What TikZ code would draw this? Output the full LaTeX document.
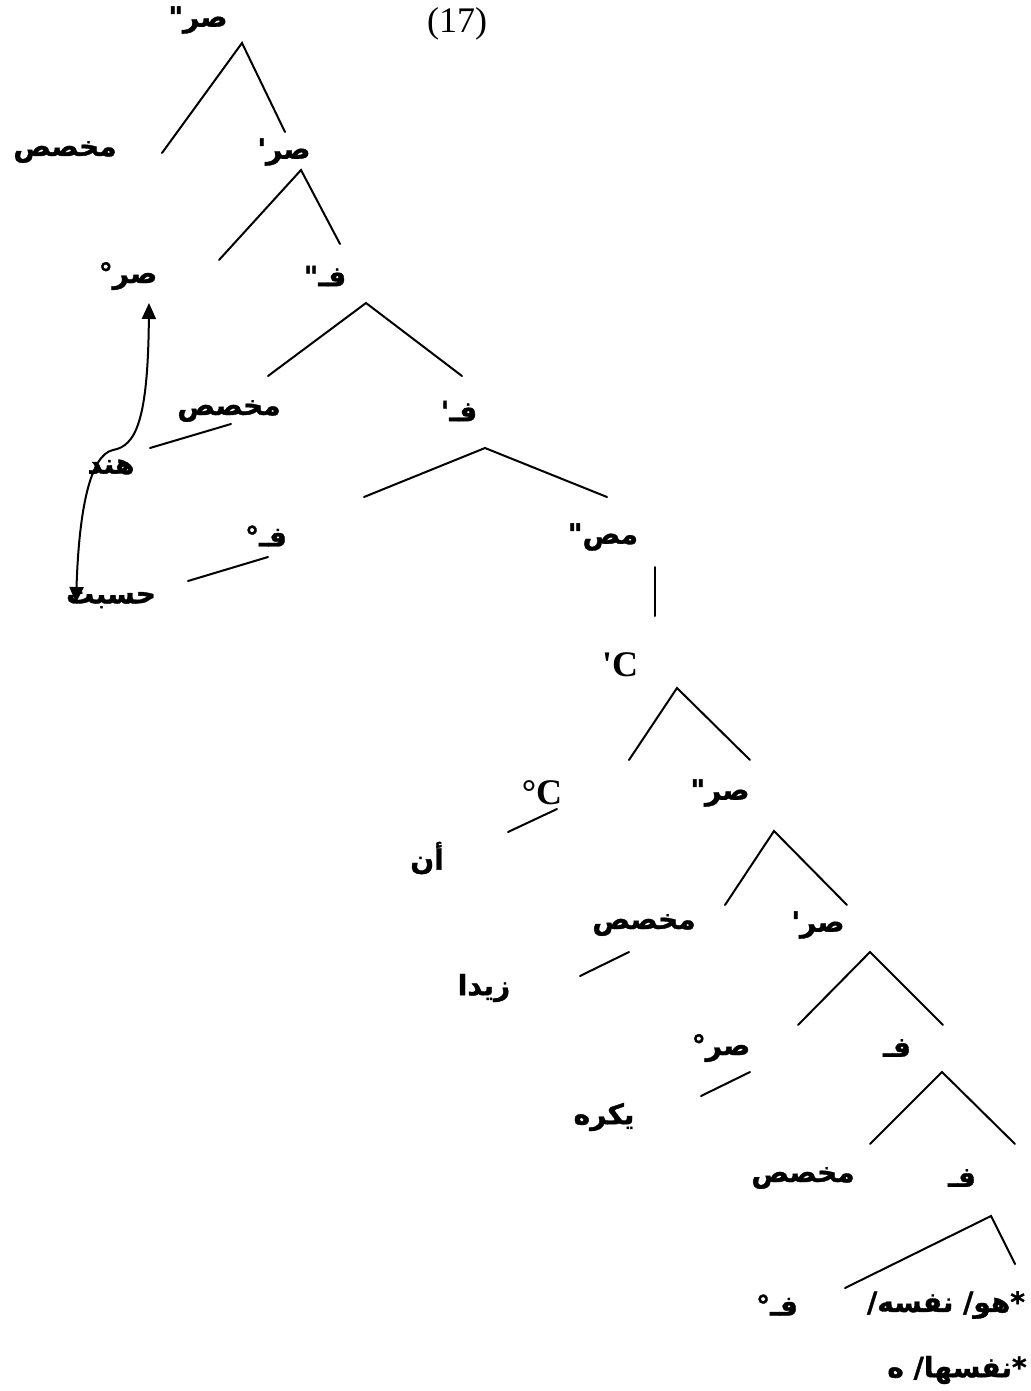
\documentclass[tikz,border=0pt]{standalone}
\usepackage{fontspec}
\usetikzlibrary{arrows.meta}
\TeXXeTstate=1
\newfontfamily\arb[Script=Arabic,FakeBold=1.2]{DejaVu Sans Bold}
\newfontfamily\tms{Liberation Serif}
\newcommand{\artxt}[1]{\beginR #1\endR}
\tikzset{
  ar/.style={font=\arb\fontsize{28}{32}\selectfont, inner sep=0pt, anchor=center},
  lt/.style={font=\tms\bfseries\fontsize{36}{40}\selectfont, inner sep=0pt, anchor=center},
  br/.style={line width=2pt, line cap=round},
  mv/.style={line width=2pt, {Triangle[length=16pt,width=14pt]}-{Triangle[length=16pt,width=14pt]}}
}
\begin{document}
\begin{tikzpicture}[x=1pt,y=-1pt]
\useasboundingbox (0,0) rectangle (1030,1391);
% labels
\node[ar] (n0) at (198,20) {\artxt{صر"}};
\node[font=\tms\fontsize{36}{40}\selectfont, inner sep=0pt] (num) at (457,24) {(17)};
\node[ar] (n1) at (65,152) {\artxt{مخصص}};
\node[ar] (n2) at (284,152) {\artxt{صر'}};
\node[ar] (n3) at (128,276) {\artxt{صر°}};
\node[ar] (n4) at (325,276) {\artxt{فـ"}};
\node[ar] (n5) at (229,411) {\artxt{مخصص}};
\node[ar] (n6) at (459,411) {\artxt{فـ'}};
\node[ar] (hind) at (111,467) {\artxt{هند}};
\node[ar] (n7) at (266,536) {\artxt{فـ°}};
\node[ar] (n8) at (603,537) {\artxt{مص"}};
\node[ar] (hasabt) at (111,600) {\artxt{حسبت}};
\node[lt] (n9) at (620,665) {'C};
\node[lt] (n10) at (542,793) {°C};
\node[ar] (n11) at (720,793) {\artxt{صر"}};
\node[ar] (an) at (427,858) {\artxt{أن}};
\node[ar] (n12) at (644,925) {\artxt{مخصص}};
\node[ar] (n13) at (818,925) {\artxt{صر'}};
\node[ar] (zayd) at (484,988) {\artxt{زيدا}};
\node[ar] (n14) at (721,1048) {\artxt{صر°}};
\node[ar] (n15) at (897,1048) {\artxt{فـ}};
\node[ar] (yakrah) at (604,1117) {\artxt{يكره}};
\node[ar] (n16) at (803,1178) {\artxt{مخصص}};
\node[ar] (n17) at (962,1178) {\artxt{فـ}};
\node[ar] (n18) at (777,1305) {\artxt{فـ°}};
\node[ar] (n19) at (946,1305) {\artxt{*هو/ نفسه/}};
\node[ar] (n20) at (957,1370) {\artxt{*نفسها/ ه}};
% branch end points
\coordinate (a0) at (242,43);   \coordinate (l0) at (162,153);  \coordinate (r0) at (285,132);
\coordinate (a1) at (301,170);  \coordinate (l1) at (219,260);  \coordinate (r1) at (340,244);
\coordinate (a2) at (366,303);  \coordinate (l2) at (268,376);  \coordinate (r2) at (462,376);
\coordinate (s3) at (231,424);  \coordinate (e3) at (150,448);
\coordinate (a4) at (485,448);  \coordinate (l4) at (364,497);  \coordinate (r4) at (607,497);
\coordinate (s5) at (268,557);  \coordinate (e5) at (188,581);
\coordinate (s6) at (655,567);  \coordinate (e6) at (655,616);
\coordinate (a7) at (677,688);  \coordinate (l7) at (629,760);  \coordinate (r7) at (750,760);
\coordinate (s8) at (557,809);  \coordinate (e8) at (508,832);
\coordinate (a9) at (774,831);  \coordinate (l9) at (725,905);  \coordinate (r9) at (847,905);
\coordinate (s10) at (629,952); \coordinate (e10) at (580,976);
\coordinate (a11) at (870,952); \coordinate (l11) at (798,1025); \coordinate (r11) at (943,1025);
\coordinate (s12) at (750,1072); \coordinate (e12) at (701,1096);
\coordinate (a13) at (942,1072); \coordinate (l13) at (870,1144); \coordinate (r13) at (1015,1144);
\coordinate (a14) at (991,1216); \coordinate (l14) at (845,1288); \coordinate (r14) at (1015,1264);
% branches
\draw[br] (l0) -- (a0) -- (r0);
\draw[br] (l1) -- (a1) -- (r1);
\draw[br] (l2) -- (a2) -- (r2);
\draw[br] (s3) -- (e3);
\draw[br] (l4) -- (a4) -- (r4);
\draw[br] (s5) -- (e5);
\draw[br] (s6) -- (e6);
\draw[br] (l7) -- (a7) -- (r7);
\draw[br] (s8) -- (e8);
\draw[br] (l9) -- (a9) -- (r9);
\draw[br] (s10) -- (e10);
\draw[br] (l11) -- (a11) -- (r11);
\draw[br] (s12) -- (e12);
\draw[br] (l13) -- (a13) -- (r13);
\draw[br] (l14) -- (a14) -- (r14);
% movement arrow
\coordinate (mvtop) at (149,303);
\coordinate (mvmid) at (113,450);
\coordinate (mvbot) at (76,603);
\draw[mv] (mvbot) .. controls (79,510) and (90,455) .. (mvmid) .. controls (136,446) and (148,420) .. (mvtop);
\end{tikzpicture}
\end{document}
